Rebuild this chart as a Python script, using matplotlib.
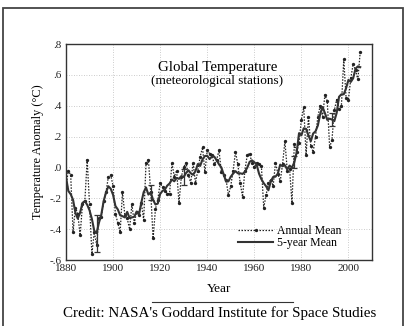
import matplotlib
matplotlib.use("Agg")
import matplotlib.pyplot as plt
import numpy as np
import pandas as pd
from matplotlib.patches import Rectangle
from matplotlib.lines import Line2D

plt.rcParams['font.family'] = ['Liberation Serif', 'DejaVu Serif']

# annual mean anomaly (C), one value per year from 1880
first_year = 1880
annual = [
    -0.12, -0.02, -0.05, -0.42, -0.26, -0.30, -0.44, -0.24, -0.22, 0.05,   # 1880s
    -0.24, -0.56, -0.42, -0.50, -0.33, -0.32, -0.22, -0.16, -0.06, -0.05,  # 1890s
    -0.12, -0.30, -0.36, -0.42, -0.16, -0.31, -0.33, -0.40, -0.24, -0.36,  # 1900s
    -0.29, -0.31, -0.23, -0.34, 0.03, 0.05, -0.16, -0.46, -0.27, -0.21,    # 1910s
    -0.10, -0.13, -0.15, -0.17, -0.17, 0.03, -0.06, -0.02, -0.23, -0.06,   # 1920s
    0.00, 0.03, -0.05, -0.10, 0.03, -0.10, -0.02, 0.07, 0.13, -0.03,       # 1930s
    0.11, 0.09, 0.08, 0.02, 0.05, 0.11, -0.03, -0.05, -0.08, -0.18,        # 1940s
    -0.12, -0.02, 0.10, 0.02, -0.10, -0.19, -0.02, 0.08, 0.09, 0.03,       # 1950s
    0.00, 0.03, 0.02, 0.01, -0.26, -0.18, -0.10, -0.08, -0.12, 0.03,       # 1960s
    -0.04, -0.09, 0.02, 0.17, -0.02, -0.01, -0.23, 0.15, 0.10, 0.16,       # 1970s
    0.31, 0.39, 0.08, 0.33, 0.14, 0.10, 0.20, 0.33, 0.40, 0.33,            # 1980s
    0.47, 0.43, 0.13, 0.18, 0.37, 0.44, 0.38, 0.40, 0.70, 0.45,            # 1990s
    0.44, 0.58, 0.67, 0.63, 0.57, 0.75,                                    # 2000s
]
years = np.arange(first_year, first_year + len(annual))

# uncertainty bars (year, half width)
err_years = [1893, 1916, 1930, 1977, 1993]
err_half = [0.12, 0.05, 0.05, 0.04, 0.04]

y_ticks = [-0.6, -0.4, -0.2, 0.0, 0.2, 0.4, 0.6, 0.8]
y_labels = ['-.6', '-.4', '-.2', '.0', '.2', '.4', '.6', '.8']
x_ticks = [1880, 1900, 1920, 1940, 1960, 1980, 2000]

s = pd.Series(annual, index=years)
five = s.rolling(5, center=True, min_periods=1).mean()

fig = plt.figure(figsize=(4.14, 3.26), dpi=100)
fig.patch.set_facecolor('white')

# outer frame
fig.patches.append(Rectangle((3/414, -0.1), 400/414, 1.1 - 8/326, transform=fig.transFigure,
                             fill=False, edgecolor='#444444', linewidth=1.3))

ax = fig.add_axes([66/414, 66/326, 306/414, 216/326])

ax.plot(years, s.values, color='#222222', linestyle=(0, (1.2, 1.2)), linewidth=0.9,
        marker='o', markersize=2.4, markerfacecolor='#222222', markeredgewidth=0)
ax.plot(years, five.values, color='#333333', linewidth=1.5)

err_y = five.loc[err_years].values
ax.errorbar(err_years, err_y, yerr=err_half, fmt='none', ecolor='#333333',
            elinewidth=0.9, capsize=2.5, capthick=0.9)

ax.set_xlim(1880, 2010)
ax.set_ylim(-0.6, 0.8)
ax.set_xticks(x_ticks)
ax.set_yticks(y_ticks)
ax.set_yticklabels(y_labels)
ax.tick_params(labelsize=8, length=0, pad=3, colors='#222222')
ax.grid(True, linestyle=(0, (1, 2)), color='#bbbbbb', linewidth=0.6)
for sp in ax.spines.values():
    sp.set_color('#333333')
    sp.set_linewidth(1.0)

ax.set_xlabel('Year', fontsize=9.5, labelpad=7)
ax.set_ylabel('Temperature Anomaly (°C)', fontsize=8.8, labelpad=4)

ax.text(0.495, 0.889, 'Global Temperature', transform=ax.transAxes, ha='center',
        va='center', fontsize=10.7)
ax.text(0.495, 0.830, '(meteorological stations)', transform=ax.transAxes, ha='center',
        va='center', fontsize=9.5)

handles = [
    Line2D([], [], color='#222222', linestyle=(0, (1.2, 1.2)), linewidth=0.9,
           marker='o', markersize=2.4, markeredgewidth=0),
    Line2D([], [], color='#333333', linewidth=1.5),
]
ax.legend(handles, ['Annual Mean', '5-year Mean'], loc='lower right',
          bbox_to_anchor=(0.935, 0.0), frameon=False, fontsize=8.5,
          handlelength=3.0, handletextpad=0.3, labelspacing=0.05)

fig.add_artist(Line2D([152/414, 293/414], [1 - 302/326, 1 - 302/326],
                      color='#333333', linewidth=0.8))
fig.text(220/414, 1 - 313/326, "Credit: NASA's Goddard Institute for Space Studies",
         ha='center', va='center', fontsize=10.8)

fig.savefig('out.png', dpi=100)
